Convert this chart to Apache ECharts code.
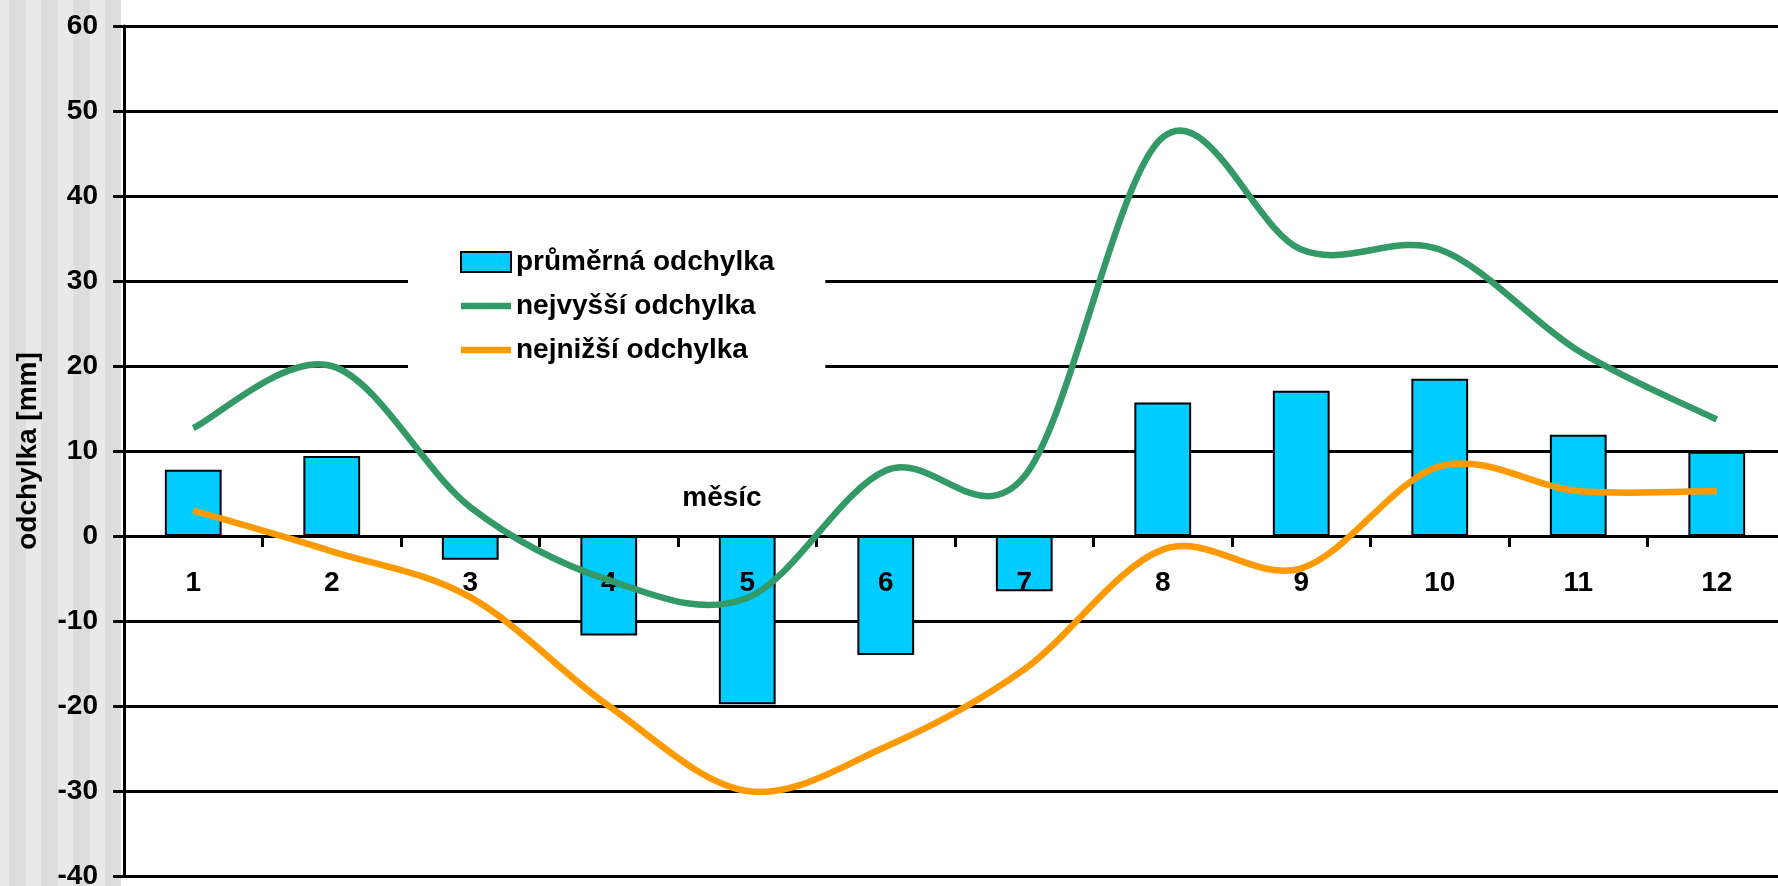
<!DOCTYPE html>
<html>
<head>
<meta charset="utf-8">
<script src="https://cdn.jsdelivr.net/npm/echarts@6/dist/echarts.min.js"></script>
<style>
  html, body { margin: 0; padding: 0; }
  body {
    width: 1778px; height: 886px; overflow: hidden;
    background: linear-gradient(to right,
      #e9e9e9 0 9px, #dddddd 9px 26px, #e9e9e9 26px 41px, #dddddd 41px 58px,
      #e9e9e9 58px 73px, #dddddd 73px 90px, #e9e9e9 90px 105px, #dddddd 105px 121px,
      #ffffff 121px);
  }
  #chart { width: 1778px; height: 886px; }
</style>
</head>
<body>
<div id="chart"></div>
<script>
// Monthly precipitation deviations [mm]
const months = ['1', '2', '3', '4', '5', '6', '7', '8', '9', '10', '11', '12'];
const avgDev = [7.8, 9.4, -2.8, -11.7, -19.8, -14.0, -6.5, 15.7, 17.1, 18.5, 11.9, 9.9];
const maxDev = [12.7, 20.0, 3.4, -5.2, -7.3, 7.7, 7.0, 46.9, 33.7, 33.7, 21.8, 13.7];
const minDev = [3.0, -1.8, -7.2, -20.0, -30.0, -24.8, -15.7, -1.6, -3.8, 8.2, 5.3, 5.3];

const seriesNames = ['průměrná odchylka', 'nejvyšší odchylka', 'nejnižší odchylka'];
const xAxisTitle = 'měsíc';
const yAxisTitle = 'odchylka [mm]';

const FONT = '"Liberation Sans", Arial, sans-serif';
const textBold = { fontFamily: FONT, fontWeight: 'bold', fontSize: 28, color: '#000' };
const LINE_W = 6.5;

// Legend icon for the curves: a thick horizontal stroke inside a 50x20 box
const lineIcon = 'path://M0,0M50,20M0,6.75H50V13.25H0Z';

// Smooth curve through the points (cardinal spline, tension 1/6), built in pixel space
function smoothCurve(values, color) {
  return function (params, api) {
    if (params.dataIndex !== 0) return null;
    const pts = values.map((v, i) => api.coord([i, v]));
    const n = pts.length;
    const p = (i) => pts[Math.max(0, Math.min(n - 1, i))];
    let d = 'M' + pts[0][0] + ',' + pts[0][1];
    for (let i = 0; i < n - 1; i++) {
      const p0 = p(i - 1), p1 = p(i), p2 = p(i + 1), p3 = p(i + 2);
      const c1x = p1[0] + (p2[0] - p0[0]) / 6, c1y = p1[1] + (p2[1] - p0[1]) / 6;
      const c2x = p2[0] - (p3[0] - p1[0]) / 6, c2y = p2[1] - (p3[1] - p1[1]) / 6;
      d += ' C' + c1x + ',' + c1y + ' ' + c2x + ',' + c2y + ' ' + p2[0] + ',' + p2[1];
    }
    return {
      type: 'path',
      shape: { pathData: d },
      style: { fill: 'none', stroke: color, lineWidth: LINE_W, lineCap: 'butt', lineJoin: 'round' },
      silent: true
    };
  };
}

const chart = echarts.init(document.getElementById('chart'), null, { renderer: 'canvas' });

chart.setOption({
  backgroundColor: 'transparent',
  animation: false,
  grid: { left: 124, top: 26, width: 1662, height: 850, containLabel: false, outerBoundsMode: 'none' },
  legend: {
    orient: 'vertical',
    left: 408,
    top: 232,
    padding: [16, 51, 20, 52],
    backgroundColor: '#ffffff',
    itemWidth: 50,
    itemHeight: 20,
    itemGap: 16,
    textStyle: textBold,
    data: [
      { name: seriesNames[0], icon: 'rect' },
      { name: seriesNames[1], icon: lineIcon },
      { name: seriesNames[2], icon: lineIcon }
    ]
  },
  xAxis: {
    type: 'category',
    data: months,
    boundaryGap: true,
    z: 3,
    offset: -340, // category axis drawn along the zero line
    axisLine: { onZero: false, lineStyle: { color: '#000', width: 3 } },
    axisTick: { show: true, alignWithLabel: false, length: 11, lineStyle: { color: '#000', width: 3 } },
    axisLabel: { ...textBold, margin: 33, interval: 0 },
    splitLine: { show: false }
  },
  yAxis: {
    type: 'value',
    min: -40,
    max: 60,
    interval: 10,
    name: yAxisTitle,
    nameLocation: 'middle',
    nameRotate: 90,
    nameGap: 82,
    nameTextStyle: textBold,
    axisLine: { show: true, lineStyle: { color: '#000', width: 3 } },
    axisTick: { show: true, length: 11, lineStyle: { color: '#000', width: 3 } },
    axisLabel: { ...textBold, margin: 26 },
    splitLine: { show: true, lineStyle: { color: '#000', width: 3 } }
  },
  graphic: [
    {
      type: 'text',
      x: 722,
      y: 498,
      z: 10,
      style: {
        text: xAxisTitle,
        font: 'bold 28px ' + FONT,
        fill: '#000',
        align: 'center',
        verticalAlign: 'middle'
      }
    }
  ],
  series: [
    {
      name: seriesNames[0],
      type: 'bar',
      data: avgDev,
      barWidth: '41%',
      z: 2,
      itemStyle: { color: '#00ccff', borderColor: '#000', borderWidth: 2 }
    },
    {
      name: seriesNames[1],
      type: 'custom',
      data: maxDev.map((v, i) => [i, v]),
      encode: { x: 0, y: 1 },
      z: 5,
      itemStyle: { color: '#339966' },
      renderItem: smoothCurve(maxDev, '#339966')
    },
    {
      name: seriesNames[2],
      type: 'custom',
      data: minDev.map((v, i) => [i, v]),
      encode: { x: 0, y: 1 },
      z: 5,
      itemStyle: { color: '#ff9900' },
      renderItem: smoothCurve(minDev, '#ff9900')
    }
  ]
});
</script>
</body>
</html>
